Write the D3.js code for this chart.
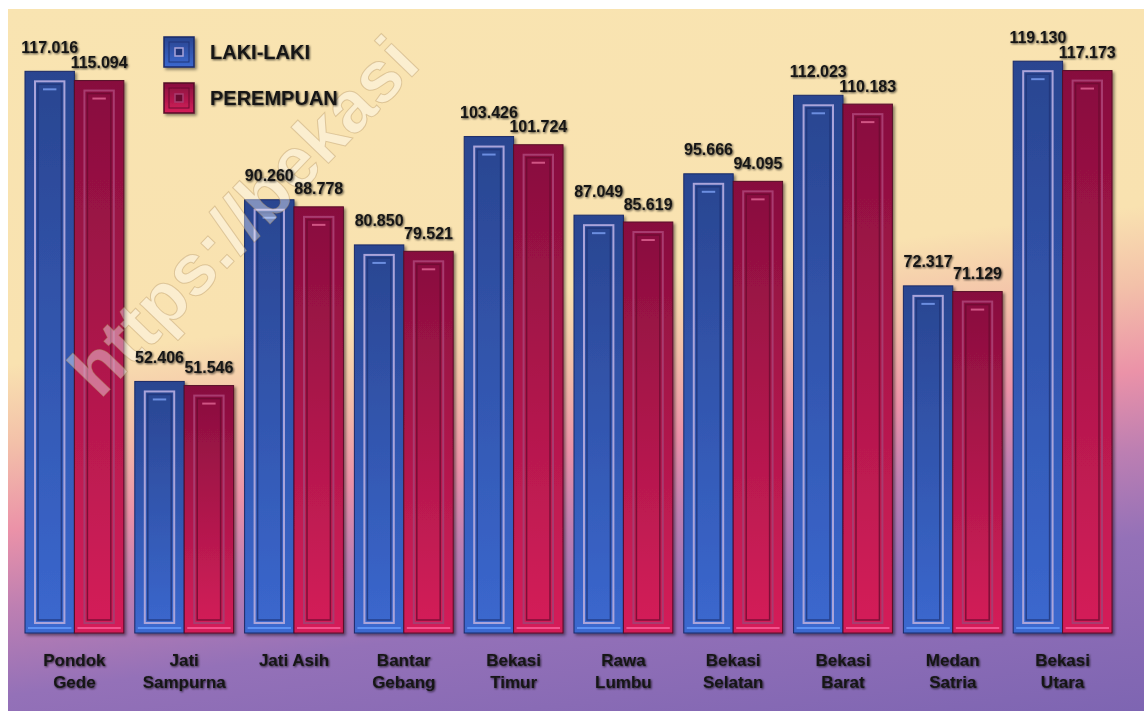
<!DOCTYPE html>
<html>
<head>
<meta charset="utf-8">
<script src="https://cdn.jsdelivr.net/npm/d3@7"></script>
<style>
  body { margin: 0; background: #fff; }
  svg { display: block; }
  text { font-family: "Liberation Sans", Arial, sans-serif; font-weight: bold; }
</style>
</head>
<body>
<svg id="chart"></svg>
<script>
const width = 1144, height = 711

// jumlah penduduk per kecamatan (ribu jiwa)
const categories = ["Pondok Gede", "Jati Sampurna", "Jati Asih", "Bantar Gebang", "Bekasi Timur",
  "Rawa Lumbu", "Bekasi Selatan", "Bekasi Barat", "Medan Satria", "Bekasi Utara"]
const labelLines = [["Pondok", "Gede"], ["Jati", "Sampurna"], ["Jati Asih"], ["Bantar", "Gebang"],
  ["Bekasi", "Timur"], ["Rawa", "Lumbu"], ["Bekasi", "Selatan"], ["Bekasi", "Barat"],
  ["Medan", "Satria"], ["Bekasi", "Utara"]]
const series = ["LAKI-LAKI", "PEREMPUAN"]
const lakiLaki  = [117.016, 52.406, 90.260, 80.850, 103.426, 87.049, 95.666, 112.023, 72.317, 119.130]
const perempuan = [115.094, 51.546, 88.778, 79.521, 101.724, 85.619, 94.095, 110.183, 71.129, 117.173]

const palette = {
  "LAKI-LAKI": { top: "#2a4590", bottom: "#3b68cf", edge: "#1a2a68", ring: "#aaa4da", inner: "#1f3478", glint: "#6c8ee0", strip: "#5c90f2" },
  "PEREMPUAN": { top: "#870e3e", bottom: "#d51f59", edge: "#560a27", ring: "#a83c70", inner: "#6a0b30", glint: "#d05584", strip: "#f2528c" }
}
const labelGap = { "LAKI-LAKI": 24, "PEREMPUAN": 18 }

const format = d3.format(".3f")

const svg = d3.select("#chart").attr("width", width).attr("height", height)
const defs = svg.append("defs")

// background gradient, slightly tilted
const bg = defs.append("linearGradient").attr("id", "bg")
  .attr("gradientUnits", "userSpaceOnUse")
  .attr("x1", 0).attr("y1", 0).attr("x2", 120).attr("y2", 854)
const bgStops = [[0, "#f9e4b1"], [0.42, "#f9e2b0"], [0.51, "#f3c1a9"], [0.61, "#eb92a8"],
  [0.70, "#bd7fb2"], [0.80, "#9471b8"], [1, "#7e65b2"]]
bg.selectAll("stop").data(bgStops).join("stop")
  .attr("offset", d => d[0]).attr("stop-color", d => d[1])

series.forEach((s, i) => {
  const g = defs.append("linearGradient").attr("id", "bar" + i)
    .attr("x1", 0).attr("y1", 0).attr("x2", 0).attr("y2", 1)
  g.append("stop").attr("offset", 0).attr("stop-color", palette[s].top)
  g.append("stop").attr("offset", 1).attr("stop-color", palette[s].bottom)
})

const shadow = defs.append("filter").attr("id", "shadow")
  .attr("x", "-20%").attr("y", "-20%").attr("width", "140%").attr("height", "140%")
shadow.append("feDropShadow").attr("dx", 2).attr("dy", 2).attr("stdDeviation", 1.5)
  .attr("flood-color", "#000").attr("flood-opacity", 0.45)

const textShadow = defs.append("filter").attr("id", "tshadow")
  .attr("x", "-10%").attr("y", "-30%").attr("width", "120%").attr("height", "160%")
textShadow.append("feDropShadow").attr("dx", 1).attr("dy", 1).attr("stdDeviation", 1)
  .attr("flood-color", "#000").attr("flood-opacity", 0.7)

svg.append("rect")
  .attr("x", 8).attr("y", 9).attr("width", width - 8).attr("height", height - 9)
  .attr("fill", "url(#bg)")

// scales
const x = d3.scaleBand().domain(categories).range([25, 1112]).paddingInner(0.1)
const xs = d3.scaleBand().domain(series).range([0, x.bandwidth()])
const y = d3.scaleLinear().domain([0, 120]).range([633, 57])

const data = categories.map((c, i) => ({
  name: c,
  lines: labelLines[i],
  values: [{ key: series[0], value: lakiLaki[i] }, { key: series[1], value: perempuan[i] }]
}))

function drawBar(g, bx, by, w, h, s, idx) {
  const p = palette[s]
  g.append("rect")
    .attr("x", bx).attr("y", by).attr("width", w).attr("height", h)
    .attr("fill", `url(#bar${idx})`).attr("stroke", p.edge).attr("stroke-width", 1)
    .attr("filter", "url(#shadow)")
  g.append("line")
    .attr("x1", bx + 3).attr("x2", bx + w - 3)
    .attr("y1", by + h - 5).attr("y2", by + h - 5)
    .attr("stroke", p.strip).attr("stroke-width", 2)
  g.append("rect")
    .attr("x", bx + 10).attr("y", by + 10).attr("width", w - 20).attr("height", h - 20)
    .attr("fill", "none").attr("stroke", p.ring).attr("stroke-width", 2)
  g.append("rect")
    .attr("x", bx + 13).attr("y", by + 13).attr("width", w - 26).attr("height", h - 26)
    .attr("fill", "none").attr("stroke", p.inner).attr("stroke-width", 1.5).attr("stroke-opacity", 0.8)
  g.append("line")
    .attr("x1", bx + 18).attr("x2", bx + w - 18)
    .attr("y1", by + 18).attr("y2", by + 18)
    .attr("stroke", p.glint).attr("stroke-width", 2)
}

const barLayer = svg.append("g")
const groups = barLayer.selectAll("g")
  .data(data)
  .join("g")
    .attr("transform", d => `translate(${x(d.name)},0)`)

groups.each(function (d) {
  const g = d3.select(this)
  d.values.forEach((v, i) => {
    drawBar(g, xs(v.key), y(v.value), xs.bandwidth(), y(0) - y(v.value), v.key, i)
  })
})

// watermark, under the labels
svg.append("text")
  .attr("transform", "translate(100,400) rotate(-46)")
  .attr("font-size", 72)
  .attr("font-weight", "normal")
  .attr("fill", "#fff")
  .attr("fill-opacity", 0.4)
  .attr("stroke", "#a9844c")
  .attr("stroke-opacity", 0.35)
  .attr("stroke-width", 1)
  .text("https://bekasi")

const labelLayer = svg.append("g")
const labelGroups = labelLayer.selectAll("g")
  .data(data)
  .join("g")
    .attr("transform", d => `translate(${x(d.name)},0)`)

// value labels
labelGroups.selectAll("text.val")
  .data(d => d.values)
  .join("text")
    .attr("class", "val")
    .attr("x", d => xs(d.key) + xs.bandwidth() / 2)
    .attr("y", d => y(d.value) - labelGap[d.key] + 5.5)
    .attr("text-anchor", "middle")
    .attr("font-size", 16)
    .attr("fill", "#151515")
    .attr("filter", "url(#tshadow)")
    .text(d => format(d.value))

// category labels
labelGroups.append("text")
    .attr("x", x.bandwidth() / 2)
    .attr("y", 666)
    .attr("text-anchor", "middle")
    .attr("font-size", 17)
    .attr("fill", "#151515")
    .attr("filter", "url(#tshadow)")
  .selectAll("tspan")
  .data(d => d.lines)
  .join("tspan")
    .attr("x", x.bandwidth() / 2)
    .attr("dy", (d, i) => i === 0 ? 0 : 22)
    .text(d => d)

// legend
const legend = svg.append("g").attr("transform", "translate(164,37)")
const item = legend.selectAll("g")
  .data(series)
  .join("g")
    .attr("transform", (d, i) => `translate(0,${i * 46})`)
item.append("rect")
  .attr("width", 30).attr("height", 30)
  .attr("fill", (d, i) => `url(#bar${i})`)
  .attr("stroke", d => palette[d].edge).attr("stroke-width", 1.5)
  .attr("filter", "url(#shadow)")
item.append("rect")
  .attr("x", 5).attr("y", 5).attr("width", 20).attr("height", 20)
  .attr("fill", "none").attr("stroke", d => palette[d].inner).attr("stroke-width", 1)
item.append("rect")
  .attr("x", 11).attr("y", 11).attr("width", 8).attr("height", 8)
  .attr("fill", d => palette[d].inner).attr("stroke", d => palette[d].ring).attr("stroke-width", 1.5)
item.append("text")
  .attr("x", 46).attr("y", 22)
  .attr("font-size", 20)
  .attr("fill", "#151515")
  .attr("filter", "url(#tshadow)")
  .text(d => d)

// white margins of the original picture
svg.append("rect").attr("x", 0).attr("y", 0).attr("width", width).attr("height", 9).attr("fill", "#fff")
svg.append("rect").attr("x", 0).attr("y", 0).attr("width", 8).attr("height", height).attr("fill", "#fff")
</script>
</body>
</html>
